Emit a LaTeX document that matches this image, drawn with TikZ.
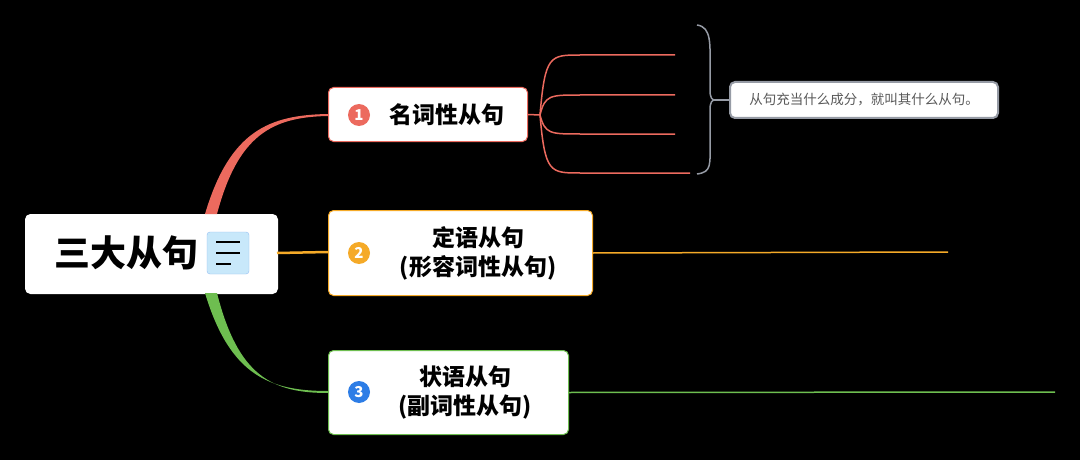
\documentclass[tikz,border=0pt]{standalone}
\usepackage{fontspec}
\setmainfont{Noto Sans CJK SC}
\usetikzlibrary{positioning,calc}
\definecolor{cred}{RGB}{236,106,94}
\definecolor{corange}{RGB}{245,170,40}
\definecolor{cgreen}{RGB}{110,190,80}
\definecolor{cblue}{RGB}{45,125,230}
\definecolor{cgray}{RGB}{150,155,165}
\definecolor{iconblue}{RGB}{200,232,250}
\tikzset{
  topic/.style={draw=#1,fill=white,rounded corners=5pt,line width=1pt,inner sep=0pt,anchor=north west},
  num/.style={circle,fill=#1,text=white,inner sep=0pt,minimum size=22pt,font=\bfseries\fontsize{15}{15}\selectfont},
  label/.style={font=\bfseries\fontsize{23}{29}\selectfont,align=center}
}
\begin{document}
\begin{tikzpicture}[x=1pt,y=-1pt]
\useasboundingbox[fill=black] (0,0) rectangle (1080,460);
% Root topic
\node[topic=white,minimum width=252pt,minimum height=79pt] (root) at (25,214) {};
\node[font=\bfseries\fontsize{36}{36}\selectfont] (roottext) at (126,253) {三大从句};
\node[draw=cblue!50,fill=iconblue,rounded corners=3pt,minimum size=42pt,inner sep=0pt] (icon) at (228,253) {};
\draw[line width=2.2pt] (216,242) -- (240,242) (216,253) -- (240,253) (216,264) -- (231,264);
% Branches from root
\fill[cred] (205,214) .. controls (230,130) and (270,115) .. (328,114)
  -- (328,116) .. controls (272,117) and (238,135) .. (217,214) -- cycle;
\fill[cgreen] (205,293) .. controls (230,376) and (270,391) .. (328,391)
  -- (328,393) .. controls (272,393) and (238,376) .. (217,293) -- cycle;
\draw[corange,line width=2.5pt] (277,253) -- (328,252);
% Topic 1
\node[topic=cred,minimum width=199pt,minimum height=54pt] (t1) at (328,87) {};
\node[num=cred] (n1) at (359,115) {1};
\node[label] (l1) at (447,115) {名词性从句};
% Topic 2
\node[topic=corange,minimum width=264pt,minimum height=85pt] (t2) at (328,210) {};
\node[num=corange] (n2) at (359,253) {2};
\node[label] (l2) at (478,253) {定语从句\\(形容词性从句)};
% Topic 3
\node[topic=cgreen,minimum width=240pt,minimum height=84pt] (t3) at (328,350) {};
\node[num=cblue] (n3) at (359,392) {3};
\node[label] (l3) at (465,392) {状语从句\\(副词性从句)};
% Sub branches of topic 1
\coordinate (fork) at (540,115);
\draw[cred,line width=1.5pt] (t1.east) -- (fork);
\foreach \yy/\xx in {55/675,95/675,134/675,173/690}
  \draw[cred,line width=1.5pt] (fork) .. controls (545,\yy) and (550,\yy) .. (580,\yy) -- (\xx,\yy);
% Brace and note
\draw[cgray,line width=1.5pt] (697,25) .. controls (712,27) and (710,45) .. (710,70)
  -- (710,90) .. controls (710,98) and (712,100) .. (715,100)
  .. controls (712,100) and (710,102) .. (710,110) -- (710,140)
  .. controls (710,165) and (712,172) .. (697,174);
\node[draw=cgray,fill=white,line width=2pt,rounded corners=5pt,minimum width=268pt,minimum height=36pt,
  text=black!65,font=\fontsize{13.5}{13.5}\selectfont] (note) at (864,100) {从句充当什么成分，就叫其什么从句。};
\draw[cgray,line width=1.5pt] (715,100) -- (note.west);
% Long lines
\coordinate (e2) at (948,252);
\coordinate (e3) at (1055,392);
\draw[corange,line width=1.5pt] (t2.east) -- (e2);
\draw[cgreen,line width=1.5pt] (t3.east) -- (e3);
\end{tikzpicture}
\end{document}
